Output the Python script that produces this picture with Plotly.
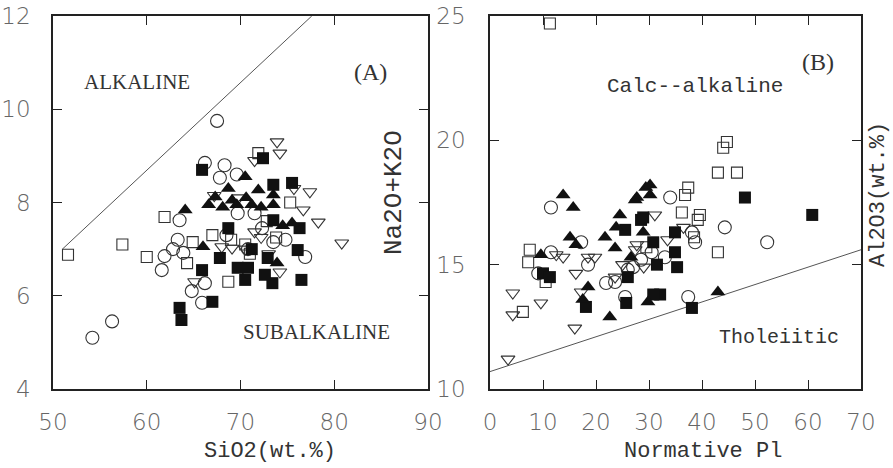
import plotly.graph_objects as go

# ---------------- Panel A : SiO2 (wt.%) vs Na2O+K2O ----------------
a_circ_x = [54.2, 56.3, 61.6, 61.9, 62.8, 63.3, 63.9, 63.5, 64.8, 65.9, 66.2, 66.2, 67.8, 68.3, 69.6, 67.5,
            69.7, 70.8, 71.5, 73.5, 76.9, 68.5, 72.3, 74.8]
a_circ_y = [5.1, 5.45, 6.55, 6.85, 7.0, 7.2, 6.92, 7.62, 6.1, 5.85, 6.27, 8.85, 8.53, 8.8, 8.6, 9.75,
            7.77, 7.0, 7.77, 7.15, 6.83, 7.3, 7.45, 7.2]
a_sq_x = [51.6, 57.4, 60.0, 61.9, 64.3, 64.9, 68.7, 71.9, 69.0, 72.8, 75.3, 73.8, 71.0, 67.0, 70.5]
a_sq_y = [6.88, 7.1, 6.83, 7.69, 6.7, 7.15, 6.3, 9.06, 7.2, 7.6, 8.0, 7.25, 6.9, 7.3, 7.1]
a_dtri_x = [74.2, 73.9, 71.5, 77.4, 76.7, 78.3, 71.5, 80.8, 74.2, 69.1, 65.1, 68.0, 70.5, 73.0, 67.2,
            69.8, 75.7, 72.2]
a_dtri_y = [9.06, 9.3, 8.9, 8.23, 7.84, 7.58, 7.37, 7.13, 6.51, 7.02, 6.3, 7.05, 7.0, 6.9, 8.15,
            8.1, 8.3, 7.25]
a_fsq_x = [65.9, 72.4, 73.5, 75.5, 73.5, 76.3, 76.1, 76.5, 72.9, 73.4, 69.7, 70.5, 68.7, 67.8, 65.9,
           67.0, 63.5, 63.7, 72.6, 71.2, 70.8]
a_fsq_y = [8.7, 8.95, 8.38, 8.42, 7.62, 7.45, 6.98, 6.34, 6.81, 6.27, 6.6, 6.34, 7.45, 6.81, 6.55,
           5.87, 5.74, 5.48, 6.45, 7.0, 6.6]
a_ftri_x = [64.1, 66.0, 67.3, 66.6, 68.1, 69.1, 70.5, 71.9, 70.6, 71.2, 73.5, 73.5, 75.5, 73.9, 74.5,
            72.2, 68.7, 69.6]
a_ftri_y = [7.84, 7.05, 8.12, 7.95, 7.9, 8.05, 8.55, 8.27, 8.1, 7.95, 8.16, 7.95, 7.56, 6.7, 7.5,
            7.9, 8.3, 7.95]
a_line_x = [51.0, 77.6]
a_line_y = [7.0, 12.0]

# ---------------- Panel B : Normative Pl vs Al2O3 ----------------
b_circ_x = [11.5, 17.2, 11.5, 9.1, 18.5, 21.9, 25.5, 23.6, 26.0, 34.0, 38.1, 38.7, 44.3, 52.3, 37.4,
            28.5, 30.5, 33.0, 27.0]
b_circ_y = [17.3, 15.9, 15.5, 14.65, 15.0, 14.26, 13.7, 14.3, 14.8, 17.7, 16.3, 15.9, 16.5, 15.9, 13.7,
            15.2, 15.5, 15.3, 14.9]
b_sq_x = [11.3, 7.5, 7.2, 6.2, 44.0, 44.7, 43.0, 46.6, 43.0, 37.4, 36.8, 36.2, 39.6, 39.2, 38.5, 10.5, 29.5]
b_sq_y = [24.7, 15.6, 15.1, 13.1, 19.7, 19.93, 18.7, 18.7, 15.5, 18.1, 17.8, 17.1, 17.0, 16.8, 16.1, 14.3, 15.7]
b_dtri_x = [13.8, 12.5, 4.3, 9.6, 4.3, 16.0, 3.4, 16.2, 17.2, 18.5, 19.8, 23.6, 27.4, 31.1, 27.7,
            25.0, 29.0, 36.5, 33.5]
b_dtri_y = [15.3, 15.4, 13.86, 13.46, 12.98, 12.45, 11.2, 14.65, 13.9, 15.3, 15.3, 14.5, 15.6, 17.0, 15.8,
            15.0, 14.9, 16.5, 16.0]
b_fsq_x = [10.0, 11.3, 18.1, 25.7, 26.0, 25.5, 28.5, 48.1, 60.8, 38.1, 32.1, 30.8, 28.9, 34.9, 34.9,
           35.3, 31.5, 30.8]
b_fsq_y = [14.65, 14.5, 13.3, 13.46, 14.5, 16.4, 16.8, 17.7, 17.0, 13.26, 13.8, 13.8, 16.9, 16.3, 15.5,
           14.9, 15.0, 15.9]
b_ftri_x = [13.8, 15.7, 15.1, 16.2, 9.6, 21.7, 23.6, 26.6, 18.5, 22.6, 24.5, 23.8, 27.4, 29.4, 30.2,
            30.2, 27.7, 43.0, 28.9, 29.8, 17.5]
b_ftri_y = [17.8, 17.3, 16.1, 15.8, 15.4, 16.1, 15.67, 15.3, 14.1, 12.9, 17.0, 16.5, 17.6, 18.1, 18.2,
            17.8, 17.7, 13.9, 16.3, 13.5, 13.6]
b_line_x = [0.0, 70.0]
b_line_y = [10.7, 15.6]

a_xticks = [50, 60, 70, 80, 90]
a_yticks = [4, 6, 8, 10, 12]
b_xticks = [0, 10, 20, 30, 40, 50, 60, 70]
b_yticks = [10, 15, 20, 25]

W, H = 893, 468
INK = "#222"

fig = go.Figure()


def add_markers(x, y, symbol, size, xa, ya, filled):
    if filled:
        marker = dict(symbol=symbol, size=size, color="#111", line=dict(width=0))
    else:
        marker = dict(symbol=symbol, size=size, color="#333", line=dict(width=1.1, color="#333"))
    fig.add_trace(go.Scatter(x=x, y=y, mode="markers", marker=marker, xaxis=xa, yaxis=ya,
                             showlegend=False, hoverinfo="skip"))


for xa, ya, lx, ly in [("x", "y", a_line_x, a_line_y), ("x2", "y2", b_line_x, b_line_y)]:
    fig.add_trace(go.Scatter(x=lx, y=ly, mode="lines", line=dict(color="#555", width=1),
                             xaxis=xa, yaxis=ya, showlegend=False, hoverinfo="skip"))

for xa, ya, d in [("x", "y", (a_circ_x, a_circ_y, a_sq_x, a_sq_y, a_dtri_x, a_dtri_y,
                                a_fsq_x, a_fsq_y, a_ftri_x, a_ftri_y)),
                  ("x2", "y2", (b_circ_x, b_circ_y, b_sq_x, b_sq_y, b_dtri_x, b_dtri_y,
                                b_fsq_x, b_fsq_y, b_ftri_x, b_ftri_y))]:
    add_markers(d[0], d[1], "circle-open", 13, xa, ya, False)
    add_markers(d[2], d[3], "square-open", 11, xa, ya, False)
    add_markers(d[4], d[5], "triangle-down-open", 12, xa, ya, False)
    add_markers(d[6], d[7], "square", 12, xa, ya, True)
    add_markers(d[8], d[9], "triangle-up", 13, xa, ya, True)

tickfont = dict(family="DejaVu Sans", size=23, color="#666", weight=200)
axis_common = dict(showline=True, linecolor=INK, linewidth=1.5, mirror="ticks", ticks="inside",
                   ticklen=9, tickwidth=1.2, tickcolor=INK, showgrid=False, zeroline=False,
                   tickfont=tickfont, automargin=False)

xA0, xA1 = 53 / W, 428 / W
xB0, xB1 = 490 / W, 861 / W
y0, y1 = 1 - 389 / H, 1 - 16 / H

fig.update_layout(
    width=W, height=H, margin=dict(l=0, r=0, t=0, b=0),
    paper_bgcolor="white", plot_bgcolor="white",
    xaxis=dict(domain=[xA0, xA1], range=[50, 90], tickvals=a_xticks, anchor="y",
               ticklabelstandoff=12, **axis_common),
    yaxis=dict(domain=[y0, y1], range=[4, 12], tickvals=a_yticks, anchor="x",
               ticklabelstandoff=16, **axis_common),
    xaxis2=dict(domain=[xB0, xB1], range=[0, 70], tickvals=b_xticks, anchor="y2",
                ticklabelstandoff=12, **axis_common),
    yaxis2=dict(domain=[y0, y1], range=[10, 25], tickvals=b_yticks, anchor="x2",
                ticklabelstandoff=18, **axis_common),
)

mono = "Liberation Mono"
serif = "Liberation Serif"


def note(text, px, py, fam, size, angle=0, color="#333"):
    fig.add_annotation(text=text, x=px / W, y=1 - py / H, xref="paper", yref="paper",
                       showarrow=False, textangle=angle, xanchor="center", yanchor="middle",
                       font=dict(family=fam, size=size, color=color))


note("SiO2(wt.%)", 270, 451, mono, 22)
note("Normative Pl", 703, 451, mono, 22)
note("Na2O+K2O", 394, 193, mono, 26, angle=-90)
note("Al2O3(wt.%)", 878, 195, mono, 22, angle=-90)
note("ALKALINE", 137, 82, serif, 21)
note("(A)", 370, 72, serif, 24)
note("SUBALKALINE", 316, 332, serif, 21)
note("(B)", 818, 62, serif, 24)
note("Calc--alkaline", 695, 86, mono, 21)
note("Tholeiitic", 779, 337, mono, 20)

fig.write_html("out.html")
